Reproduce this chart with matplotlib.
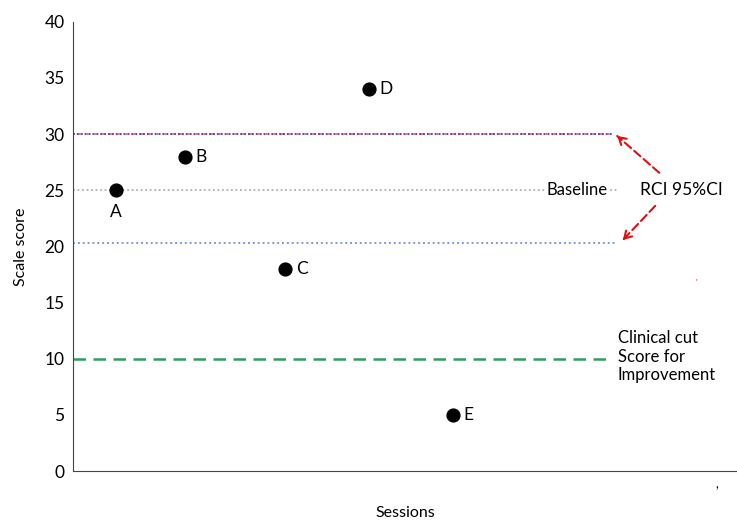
#Import Requirements
import matplotlib
matplotlib.use("Agg")
import matplotlib.pyplot as plt

plt.rcParams['font.family'] = ['Lato', 'DejaVu Sans']

#Data
labels = ["A", "B", "C", "D", "E"]
sessions = [0.51, 1.33, 2.52, 3.52, 4.52]
scores = [25, 28, 18, 34, 5]
baseline = 25
rci_upper = 30
rci_lower = 20.3
clinical_cut = 10
yticks = [0, 5, 10, 15, 20, 25, 30, 35, 40]

#Figure
fig = plt.figure(figsize=(7.37, 5.2), dpi=100)
ax = fig.add_axes([0.099, 0.094, 0.901, 0.864])
ax.set_xlim(0, 7.9)
ax.set_ylim(0, 40)

line_end = 6.42
ax.plot([0, line_end], [rci_upper, rci_upper], linestyle=(0, (1, 1)), color="#9c2f78", linewidth=1.4)
ax.plot([0, line_end], [rci_upper, rci_upper], linestyle=(1, (1, 3)), color="#8a8fe0", linewidth=1.4)
ax.plot([0, line_end + 0.05], [baseline, baseline], linestyle=(0, (1, 1.5)), color="#b0b0b0", linewidth=1.3)
ax.plot([0, line_end + 0.05], [rci_lower, rci_lower], linestyle=(0, (1, 1.5)), color="#7b9be6", linewidth=1.4)
ax.plot([0, line_end - 0.02], [clinical_cut, clinical_cut], linestyle=(0, (5, 3)), color="#2e9e62", linewidth=1.8)

#Points
ax.scatter(sessions, scores, s=85, color="black", zorder=5)
for lab, x, y in zip(labels, sessions, scores):
    if lab == "A":
        ax.text(x, y - 1.9, lab, fontsize=12.5, ha="center", va="center")
    else:
        ax.text(x + 0.13, y, lab, fontsize=12.5, ha="left", va="center")

#Annotations
ax.text(6.0, baseline, "Baseline", fontsize=12, ha="center", va="center",
        bbox=dict(facecolor="white", edgecolor="none", pad=1))
ax.text(6.75, baseline, "RCI 95%CI", fontsize=12.5, ha="left", va="center")
red = "#e01010"
ax.annotate("", xy=(6.45, 30.0), xytext=(7.0, 26.4),
            arrowprops=dict(arrowstyle="-", color=red, linestyle=(0, (4, 2)), lw=1.5))
ax.annotate("", xy=(6.45, 30.0), xytext=(6.55, 29.35),
            arrowprops=dict(arrowstyle="->,head_length=0.5,head_width=0.3", color=red, lw=1.5))
ax.annotate("", xy=(6.52, 20.4), xytext=(6.95, 23.8),
            arrowprops=dict(arrowstyle="-", color=red, linestyle=(0, (4, 2)), lw=1.5))
ax.annotate("", xy=(6.52, 20.4), xytext=(6.6, 21.03),
            arrowprops=dict(arrowstyle="->,head_length=0.5,head_width=0.3", color=red, lw=1.5))
ax.text(6.48, 10.2, "Clinical cut\nScore for\nImprovement", fontsize=12, ha="left", va="center",
        linespacing=1.2)
ax.text(7.42, 16.8, "'", fontsize=6, color=red, ha="center", va="center")
ax.text(7.66, -1.2, ",", fontsize=9, ha="center", va="center")

#Axes styling
ax.spines["top"].set_visible(False)
ax.spines["right"].set_visible(False)
ax.spines["left"].set_color("#444444")
ax.spines["bottom"].set_color("#444444")
ax.set_xticks([])
ax.set_yticks(yticks)
ax.tick_params(axis="y", length=0, pad=6, labelsize=12.5)
ax.set_ylabel("Scale score", fontsize=11.5, labelpad=12)
ax.set_xlabel("Sessions", fontsize=11.5, labelpad=25)

fig.savefig("out.png", dpi=100)
